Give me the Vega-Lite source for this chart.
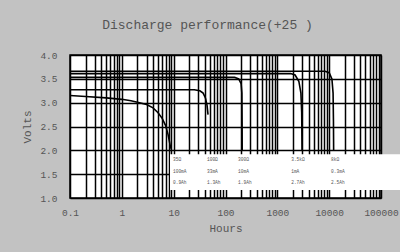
{
  "$schema": "https://vega.github.io/schema/vega-lite/v6.json",
  "width": 311,
  "height": 143,
  "autosize": {"type": "none"},
  "padding": {"left": 70, "top": 55, "right": 19, "bottom": 54},
  "background": "#c2c2c2",
  "title": {
    "text": "Discharge performance(+25  )",
    "font": "Liberation Mono",
    "fontSize": 13,
    "fontWeight": "normal",
    "color": "#555555",
    "anchor": "middle",
    "dx": -18,
    "offset": 5,
    "baseline": "bottom"
  },
  "config": {
    "view": {"fill": "white", "stroke": "black", "strokeWidth": 1.5},
    "axis": {
      "labelFont": "Liberation Mono",
      "labelFontSize": 9.5,
      "labelColor": "#555555",
      "titleFont": "Liberation Mono",
      "titleFontSize": 11,
      "titleFontWeight": "normal",
      "titleColor": "#555555",
      "gridColor": "black",
      "gridWidth": 1.5,
      "gridOpacity": 1,
      "ticks": false,
      "domain": false
    }
  },
  "datasets": {
    "curves": [
      {"s": "A", "h": 0.1, "v": 3.15}, {"s": "A", "h": 0.2, "v": 3.13}, {"s": "A", "h": 0.5, "v": 3.1},
      {"s": "A", "h": 1, "v": 3.07}, {"s": "A", "h": 1.5, "v": 3.04}, {"s": "A", "h": 2, "v": 3.01},
      {"s": "A", "h": 3, "v": 2.96}, {"s": "A", "h": 4, "v": 2.89}, {"s": "A", "h": 5, "v": 2.79},
      {"s": "A", "h": 6, "v": 2.67}, {"s": "A", "h": 7, "v": 2.52}, {"s": "A", "h": 7.8, "v": 2.33},
      {"s": "A", "h": 8.5, "v": 2.12}, {"s": "A", "h": 9, "v": 2.02},
      {"s": "B", "h": 0.1, "v": 3.27}, {"s": "B", "h": 25, "v": 3.27}, {"s": "B", "h": 32, "v": 3.25},
      {"s": "B", "h": 37, "v": 3.2}, {"s": "B", "h": 41, "v": 3.1}, {"s": "B", "h": 44, "v": 2.95},
      {"s": "B", "h": 46, "v": 2.75},
      {"s": "C", "h": 0.1, "v": 3.53}, {"s": "C", "h": 150, "v": 3.53}, {"s": "C", "h": 180, "v": 3.5},
      {"s": "C", "h": 200, "v": 3.4}, {"s": "C", "h": 207, "v": 3.2}, {"s": "C", "h": 209, "v": 2.6},
      {"s": "C", "h": 210, "v": 2.0},
      {"s": "D", "h": 0.1, "v": 3.61}, {"s": "D", "h": 1800, "v": 3.61}, {"s": "D", "h": 2200, "v": 3.58},
      {"s": "D", "h": 2600, "v": 3.45}, {"s": "D", "h": 2850, "v": 3.2}, {"s": "D", "h": 2950, "v": 2.8},
      {"s": "D", "h": 3000, "v": 2.0},
      {"s": "E", "h": 0.1, "v": 3.66}, {"s": "E", "h": 8300, "v": 3.66}, {"s": "E", "h": 10000, "v": 3.63},
      {"s": "E", "h": 11300, "v": 3.5}, {"s": "E", "h": 11900, "v": 3.2}, {"s": "E", "h": 12100, "v": 2.6},
      {"s": "E", "h": 12200, "v": 2.0}
    ],
    "notes": [
      {"h": 9.7, "v": 1.79, "t": "35Ω"}, {"h": 9.7, "v": 1.55, "t": "100mA"}, {"h": 9.7, "v": 1.32, "t": "0.9Ah"},
      {"h": 44, "v": 1.79, "t": "100Ω"}, {"h": 44, "v": 1.55, "t": "33mA"}, {"h": 44, "v": 1.32, "t": "1.3Ah"},
      {"h": 175, "v": 1.79, "t": "300Ω"}, {"h": 175, "v": 1.55, "t": "10mA"}, {"h": 175, "v": 1.32, "t": "1.9Ah"},
      {"h": 1850, "v": 1.79, "t": "3.5kΩ"}, {"h": 1850, "v": 1.55, "t": "1mA"}, {"h": 1850, "v": 1.32, "t": "2.7Ah"},
      {"h": 10900, "v": 1.79, "t": "8kΩ"}, {"h": 10900, "v": 1.55, "t": "0.3mA"}, {"h": 10900, "v": 1.32, "t": "2.5Ah"}
    ]
  },
  "encoding": {
    "x": {
      "field": "h",
      "type": "quantitative",
      "scale": {"type": "log", "domain": [0.1, 100000], "nice": false},
      "axis": {
        "title": "Hours",
        "values": [0.1, 0.2, 0.3, 0.4, 0.5, 0.6, 0.7, 0.8, 0.9,
                   1, 2, 3, 4, 5, 6, 7, 8, 9,
                   10, 20, 30, 40, 50, 60, 70, 80, 90,
                   100, 200, 300, 400, 500, 600, 700, 800, 900,
                   1000, 2000, 3000, 4000, 5000, 6000, 7000, 8000, 9000,
                   10000, 20000, 30000, 40000, 50000, 60000, 70000, 80000, 90000,
                   100000],
        "format": "~g",
        "labelExpr": "(datum.value == 0.1 || datum.value == 1 || datum.value == 10 || datum.value == 100 || datum.value == 1000 || datum.value == 10000 || datum.value == 100000) ? datum.label : ''",
        "labelOverlap": false,
        "labelBound": false,
        "labelFlush": false,
        "labelPadding": 9,
        "titlePadding": 6
      }
    },
    "y": {
      "field": "v",
      "type": "quantitative",
      "scale": {"domain": [1, 4], "nice": false, "zero": false},
      "axis": {
        "title": "Volts",
        "values": [1, 1.5, 2, 2.5, 3, 3.5, 4],
        "format": ".1f",
        "labelOverlap": false,
        "labelBound": false,
        "labelFlush": false,
        "labelPadding": 13,
        "titlePadding": 7
      }
    }
  },
  "layer": [
    {
      "data": {"name": "curves"},
      "mark": {"type": "line", "color": "black", "strokeWidth": 1.6},
      "encoding": {
        "detail": {"field": "s"}
      }
    },
    {
      "data": {"values": [{"h": 8.5, "h2": 250000, "v": 1.92, "v2": 1.17}]},
      "mark": {"type": "rect", "color": "white", "clip": false},
      "encoding": {
        "x2": {"field": "h2"},
        "y2": {"field": "v2"}
      }
    },
    {
      "data": {"name": "notes"},
      "mark": {"type": "text", "align": "left", "baseline": "middle", "font": "Liberation Mono", "fontSize": 4.5, "color": "#555555"},
      "encoding": {
        "text": {"field": "t"}
      }
    }
  ]
}
